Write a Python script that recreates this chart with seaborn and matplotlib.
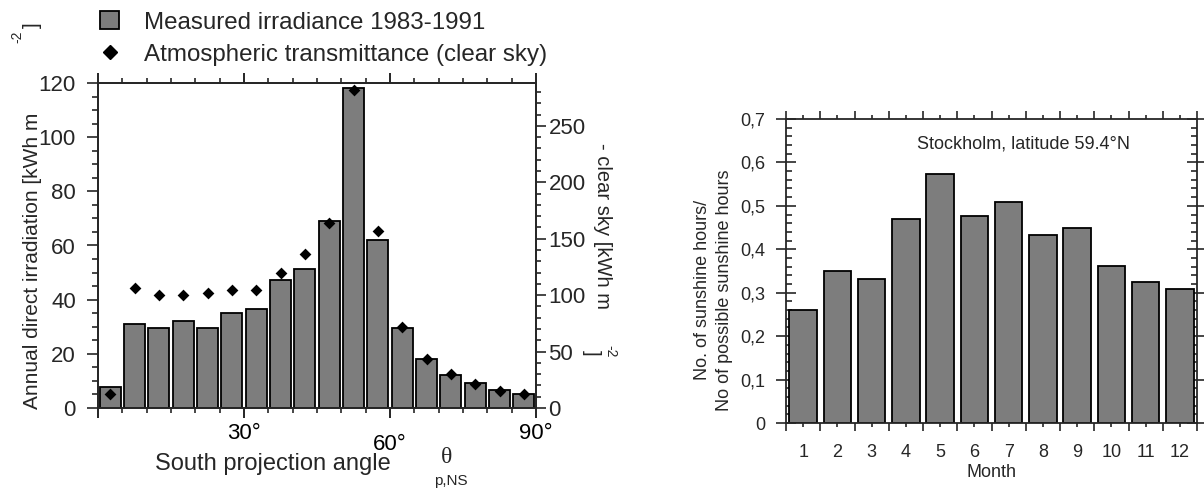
import numpy as np
import pandas as pd
import matplotlib.pyplot as plt
import seaborn as sns
from matplotlib.ticker import MultipleLocator, FixedLocator, FuncFormatter
from matplotlib.patches import Patch
from matplotlib.lines import Line2D
import matplotlib.transforms as mtransforms

# --- data ---
# left panel: 5 degree bins of the south projection angle
angle_bins = [2.5, 7.5, 12.5, 17.5, 22.5, 27.5, 32.5, 37.5, 42.5,
              47.5, 52.5, 57.5, 62.5, 67.5, 72.5, 77.5, 82.5, 87.5]
measured = [7.8, 31.2, 29.5, 32.1, 29.5, 35.1, 36.6, 47.4, 51.2,
            69.0, 118.0, 62.0, 29.5, 18.0, 12.1, 9.1, 6.5, 5.1]          # kWh m-2
clear_sky = [12.8, 106.0, 99.7, 99.7, 101.5, 104.5, 104.5, 119.7, 136.5,
             164.0, 282.0, 157.0, 72.0, 43.5, 29.8, 21.5, 15.3, 12.5]     # kWh m-2

# right panel: Stockholm sunshine fraction per month
months = [1, 2, 3, 4, 5, 6, 7, 8, 9, 10, 11, 12]
sunshine_ratio = [0.261, 0.351, 0.332, 0.470, 0.574, 0.477,
                  0.510, 0.432, 0.450, 0.361, 0.325, 0.309]

W, H = 1204, 490


def px(x, y):
    return x / W, 1 - y / H


sns.set_theme(style='ticks')
plt.rcParams['font.family'] = ['Liberation Sans', 'DejaVu Sans']
plt.rcParams['axes.linewidth'] = 1.3

bar_grey = '#7d7d7d'
fig = plt.figure(figsize=(W / 100, H / 100), dpi=100)

# 1. Annual direct irradiation vs south projection angle
ax = fig.add_axes([98 / W, 1 - 408 / H, 438 / W, 325 / H])
sns.barplot(x=angle_bins, y=measured, native_scale=True, width=0.87,
            color=bar_grey, saturation=1, edgecolor='black', linewidth=1.3, ax=ax)
ax.set_xlim(0, 90)
ax.set_ylim(0, 120)
ax.set_xticks([0, 30, 60, 90])
ax.set_xticklabels(['', '30°', '60°', '90°'])
ax.xaxis.set_minor_locator(MultipleLocator(5))
ax.yaxis.set_major_locator(MultipleLocator(20))
ax.yaxis.set_minor_locator(MultipleLocator(5))
ax.tick_params(axis='x', which='major', direction='out', length=7, width=1.2,
               top=True, labelsize=16, pad=4, colors='black')
ax.tick_params(axis='x', which='minor', direction='out', length=3.5, width=1.2, top=True)
ax.tick_params(axis='y', which='major', direction='out', length=8, width=1.2,
               right=False, labelsize=16, pad=8)
ax.tick_params(axis='y', which='minor', direction='out', length=4, width=1.2, right=False)
# the 60° label sits lower in the original
lab60 = ax.get_xticklabels()[2]
lab60.set_transform(lab60.get_transform() +
                    mtransforms.ScaledTranslation(0, -0.11, fig.dpi_scale_trans))
ax.set_xlabel('South projection angle', fontsize=17)
ax.xaxis.set_label_coords((273 - 98) / 438, (408 - 453) / 325)
ax.set_ylabel('')

ax2 = ax.twinx()
sns.scatterplot(x=angle_bins, y=clear_sky, marker='D', color='black', s=36,
                linewidth=0, ax=ax2, legend=False)
ax2.set_ylim(0, 288)
ax2.yaxis.set_major_locator(MultipleLocator(50))
ax2.yaxis.set_minor_locator(MultipleLocator(10))
ax2.tick_params(axis='y', which='major', direction='out', length=7, width=1.2,
                labelsize=16, pad=2)
ax2.tick_params(axis='y', which='minor', direction='out', length=3.5, width=1.2)
ax2.set_ylabel('')

fig.text(*px(38, 113), 'Annual direct irradiation [kWh m', rotation=90,
         rotation_mode='anchor', ha='right', va='baseline', fontsize=15)
fig.text(*px(17, 37), '-2', rotation=90, ha='center', va='center', fontsize=10)
fig.text(*px(32, 25), ']', rotation=90, ha='center', va='center', fontsize=15)
fig.text(*px(597, 143), '- clear sky [kWh m', rotation=270,
         rotation_mode='anchor', ha='left', va='baseline', fontsize=14.5)
fig.text(*px(591, 353), ']', rotation=270, ha='center', va='center', fontsize=14.5)
fig.text(*px(610, 351), '-2', rotation=270, ha='center', va='center', fontsize=10)
fig.text(*px(447, 457), 'θ', fontsize=17, ha='center', va='center',
         family=['Liberation Serif', 'DejaVu Serif'])
fig.text(*px(451, 481), 'p,NS', fontsize=11, ha='center', va='center')

handles = [Patch(facecolor=bar_grey, edgecolor='black', linewidth=1.3),
           Line2D([], [], marker='D', ls='', color='black', markersize=7)]
fig.legend(handles, ['Measured irradiance 1983-1991',
                     'Atmospheric transmittance (clear sky)'],
           loc='upper left', bbox_to_anchor=px(100, 11), frameon=False,
           fontsize=17.4, handlelength=0.8, handleheight=0.8,
           handletextpad=1.0, labelspacing=0.4, borderpad=0, borderaxespad=0)

# 2. Stockholm sunshine fraction
ax3 = fig.add_axes([786 / W, 1 - 423 / H, 411 / W, 304 / H])
sns.barplot(x=months, y=sunshine_ratio, width=0.81, color=bar_grey, saturation=1,
            edgecolor='black', linewidth=1.3, ax=ax3)
ax3.set_xlim(-0.5, 11.5)
ax3.set_ylim(0, 0.7)
ax3.xaxis.set_minor_locator(FixedLocator(np.arange(-0.5, 12, 1)))
ax3.tick_params(axis='x', which='major', direction='out', length=3, width=1.2,
                top=True, labelsize=13, pad=12)
ax3.tick_params(axis='x', which='minor', direction='out', length=6, width=1.2, top=True)
ax3.yaxis.set_major_locator(MultipleLocator(0.1))
ax3.yaxis.set_minor_locator(MultipleLocator(0.02))
ax3.yaxis.set_major_formatter(FuncFormatter(
    lambda v, _: '0' if abs(v) < 1e-9 else f'{v:.1f}'.replace('.', ',')))
ax3.tick_params(axis='y', which='major', direction='inout', length=14, width=1.2,
                right=True, labelsize=13, pad=8)
ax3.tick_params(axis='y', which='minor', direction='in', length=4.5, width=1.2, right=True)
ax3.set_xlabel('Month', fontsize=13, labelpad=2)
ax3.set_ylabel('No. of sunshine hours/\nNo of possible sunshine hours',
               fontsize=13, linespacing=1.4)
ax3.yaxis.set_label_coords((733 - 786) / 411, 0.4375)
ax3.text(0.579, 0.918, 'Stockholm, latitude 59.4°N', transform=ax3.transAxes,
         ha='center', va='center', fontsize=13)

fig.savefig('out.png', dpi=100)
